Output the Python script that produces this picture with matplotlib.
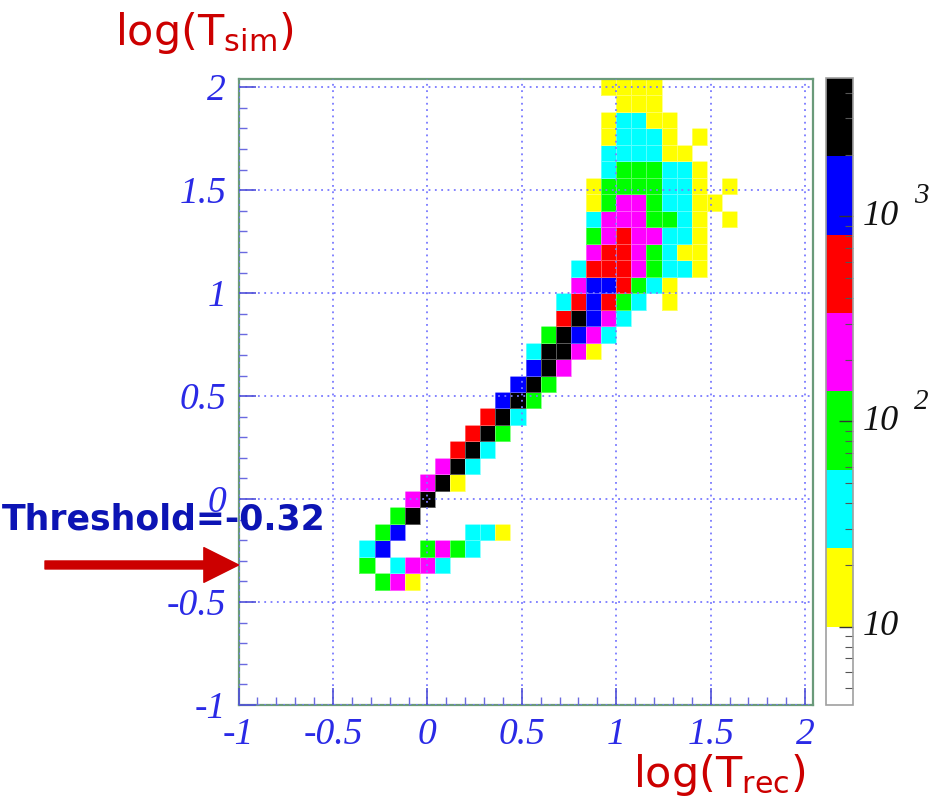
import numpy as np
import matplotlib
matplotlib.use("Agg")
import matplotlib.pyplot as plt
from matplotlib.colors import ListedColormap, LogNorm
from matplotlib.ticker import MultipleLocator, FuncFormatter, LogLocator, NullFormatter

# ---------------- data (bin centres) ----------------
# log(T_rec) bin centre, log(T_sim) bin centre, entries in the bin
log_trec = [
    0.96, 1.04, 1.12, 1.20,                                      # 2.00
    1.04, 1.12, 1.20,                                            # 1.92
    0.96, 1.04, 1.12, 1.20, 1.28,                                # 1.84
    0.96, 1.04, 1.12, 1.20, 1.28, 1.44,                          # 1.76
    0.96, 1.04, 1.12, 1.20, 1.28, 1.36,                          # 1.68
    0.96, 1.04, 1.12, 1.20, 1.28, 1.36, 1.44,                    # 1.60
    0.88, 0.96, 1.04, 1.12, 1.20, 1.28, 1.36, 1.44, 1.60,        # 1.52
    0.88, 0.96, 1.04, 1.12, 1.20, 1.28, 1.36, 1.44, 1.52,        # 1.44
    0.88, 0.96, 1.04, 1.12, 1.20, 1.28, 1.36, 1.44, 1.60,        # 1.36
    0.88, 0.96, 1.04, 1.12, 1.20, 1.28, 1.36, 1.44,              # 1.28
    0.88, 0.96, 1.04, 1.12, 1.20, 1.28, 1.36, 1.44,              # 1.20
    0.80, 0.88, 0.96, 1.04, 1.12, 1.20, 1.28, 1.36, 1.44,        # 1.12
    0.80, 0.88, 0.96, 1.04, 1.12, 1.20, 1.28,                    # 1.04
    0.72, 0.80, 0.88, 0.96, 1.04, 1.12, 1.28,                    # 0.96
    0.72, 0.80, 0.88, 0.96, 1.04,                                # 0.88
    0.64, 0.72, 0.80, 0.88, 0.96,                                # 0.80
    0.56, 0.64, 0.72, 0.80, 0.88,                                # 0.72
    0.56, 0.64, 0.72,                                            # 0.64
    0.48, 0.56, 0.64,                                            # 0.56
    0.40, 0.48, 0.56,                                            # 0.48
    0.32, 0.40, 0.48,                                            # 0.40
    0.24, 0.32, 0.40,                                            # 0.32
    0.16, 0.24, 0.32,                                            # 0.24
    0.08, 0.16, 0.24,                                            # 0.16
    0.00, 0.08, 0.16,                                            # 0.08
    -0.08, 0.00,                                                 # 0.00
    -0.16, -0.08,                                                # -0.08
    -0.24, -0.16, 0.24, 0.32, 0.40,                              # -0.16
    -0.32, -0.24, 0.00, 0.08, 0.16, 0.24,                        # -0.24
    -0.32, -0.16, -0.08, 0.00, 0.08,                             # -0.32
    -0.24, -0.16, -0.08,                                         # -0.40
]
log_tsim = (
    [2.00] * 4 + [1.92] * 3 + [1.84] * 5 + [1.76] * 6 + [1.68] * 6
    + [1.60] * 7 + [1.52] * 9 + [1.44] * 9 + [1.36] * 9 + [1.28] * 8
    + [1.20] * 8 + [1.12] * 9 + [1.04] * 7 + [0.96] * 7 + [0.88] * 5
    + [0.80] * 5 + [0.72] * 5 + [0.64] * 3 + [0.56] * 3 + [0.48] * 3
    + [0.40] * 3 + [0.32] * 3 + [0.24] * 3 + [0.16] * 3 + [0.08] * 3
    + [0.00] * 2 + [-0.08] * 2 + [-0.16] * 5 + [-0.24] * 6 + [-0.32] * 5
    + [-0.40] * 3
)
entries = [
    15, 15, 15, 15,
    15, 15, 15,
    15, 37, 37, 15, 15,
    15, 37, 37, 37, 15, 15,
    37, 37, 37, 37, 15, 15,
    37, 90, 90, 90, 37, 37, 15,
    15, 90, 90, 90, 90, 37, 37, 15, 15,
    15, 90, 220, 220, 90, 37, 37, 15, 15,
    37, 220, 220, 220, 90, 90, 37, 15, 15,
    90, 220, 520, 220, 220, 37, 37, 15,
    220, 520, 520, 220, 90, 37, 15, 15,
    37, 520, 520, 520, 220, 90, 37, 37, 15,
    220, 1260, 1260, 520, 90, 37, 15,
    37, 520, 1260, 520, 90, 37, 15,
    520, 3000, 1260, 220, 37,
    90, 3000, 1260, 220, 37,
    37, 3000, 3000, 220, 15,
    1260, 3000, 220,
    1260, 3000, 90,
    1260, 3000, 90,
    520, 3000, 37,
    520, 3000, 90,
    520, 3000, 37,
    220, 3000, 37,
    220, 3000, 15,
    220, 3000,
    90, 3000,
    90, 1260, 37, 37, 15,
    37, 1260, 90, 220, 90, 37,
    90, 37, 220, 220, 37,
    90, 220, 15,
]
threshold = -0.32

palette = ["#ffffff", "#ffff00", "#00ffff", "#00ff00",
           "#ff00ff", "#ff0000", "#0000ff", "#000000"]
z_min, z_max = 4.15, 4720

# ---------------- figure ----------------
W, H = 935, 800
fig = plt.figure(figsize=(W / 100, H / 100), dpi=100)
ax = fig.add_axes([238.6 / W, 95 / H, 574 / W, 626 / H])

edges = np.linspace(-1.0, 2.04, 39)
hist, xe, ye = np.histogram2d(log_trec, log_tsim, bins=[edges, edges], weights=entries)
hist = np.ma.masked_equal(hist.T, 0)

cmap = ListedColormap(palette)
norm = LogNorm(vmin=z_min, vmax=z_max)
mesh = ax.pcolormesh(xe, ye, hist, cmap=cmap, norm=norm,
                     edgecolors=(1, 1, 1, 0.35), linewidth=0.5)

ax.set_xlim(-1.0, 2.04)
ax.set_ylim(-1.0, 2.04)
ax.set_axisbelow(False)
ax.grid(True, which="major", color="#7a7aff", linestyle=(0, (1, 2.5)), linewidth=1.3)

blue = "#2a2ae6"
ax.xaxis.set_major_locator(MultipleLocator(0.5))
ax.yaxis.set_major_locator(MultipleLocator(0.5))
ax.xaxis.set_minor_locator(MultipleLocator(0.1))
ax.yaxis.set_minor_locator(MultipleLocator(0.1))
fmt = FuncFormatter(lambda v, p: "%g" % round(v, 2))
ax.xaxis.set_major_formatter(fmt)
ax.yaxis.set_major_formatter(fmt)
ax.tick_params(which="major", direction="in", length=12, width=1.2, color="#5050d8",
               labelcolor=blue, labelsize=27, pad=9)
ax.tick_params(which="minor", direction="in", length=6, width=1.0, color="#6a6ae0")
for lab in ax.get_xticklabels() + ax.get_yticklabels():
    lab.set_family("Liberation Serif")
    lab.set_style("italic")

for s in ax.spines.values():
    s.set_color("#6a9a7a")
    s.set_linewidth(1.6)

# ---------------- colour bar ----------------
cax = fig.add_axes([826 / W, 95 / H, 27 / W, 627 / H])
cb = fig.colorbar(mesh, cax=cax)
cb.outline.set_edgecolor("#a0a0a0")
cb.outline.set_linewidth(1.2)
cax.yaxis.set_ticks_position("right")
cax.yaxis.set_major_locator(LogLocator(base=10))
cax.yaxis.set_minor_locator(LogLocator(base=10, subs=np.arange(2, 10)))
cax.yaxis.set_major_formatter(NullFormatter())
cax.yaxis.set_minor_formatter(NullFormatter())
cax.tick_params(which="major", direction="in", length=10, width=1.0, color="#333333")
cax.tick_params(which="minor", direction="in", length=6, width=0.8, color="#555555")

for val, power in [(10, ""), (100, "2"), (1000, "3")]:
    cax.text(1.35, val, "10", transform=cax.get_yaxis_transform(), ha="left", va="center",
             fontsize=26, family="Liberation Serif", style="italic", color="#111111")
    if power:
        cax.text(3.25, val * 1.25, power, transform=cax.get_yaxis_transform(),
                 ha="left", va="center", fontsize=21, family="Liberation Serif",
                 style="italic", color="#111111")

# ---------------- labels & annotation ----------------
red = "#cc0000"
fig.text(115 / W, 1 - 10 / H, r"log(T$_{\mathregular{sim}}$)", ha="left", va="top",
         fontsize=31, color=red)
fig.text(806 / W, 1 - 798 / H, r"log(T$_{\mathregular{rec}}$)", ha="right", va="bottom",
         fontsize=31, color=red)

fig.text(2 / W, 1 - 520 / H, "Threshold=%.2f" % threshold, ha="left", va="center",
         fontsize=25, fontweight="bold", color="#0c14b4")

ax.annotate("", xy=(-1.0, threshold), xycoords="data",
            xytext=(45 / W, threshold), textcoords=("figure fraction", "data"),
            arrowprops=dict(arrowstyle="simple,head_width=1.0,head_length=1.0,tail_width=0.23",
                            mutation_scale=25, color=red, shrinkA=0, shrinkB=0),
            annotation_clip=False)

fig.savefig("out.png", dpi=100)
